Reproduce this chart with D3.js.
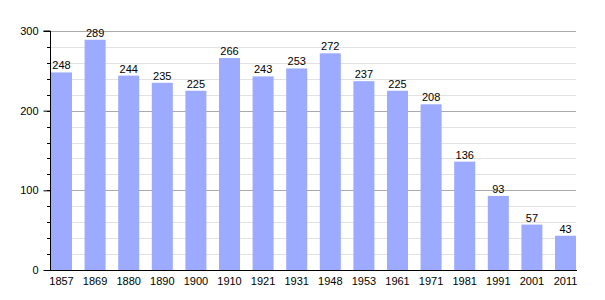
<!DOCTYPE html>
<html>
<head>
<meta charset="utf-8">
<script src="https://cdn.jsdelivr.net/npm/d3@7"></script>
<style>
  body { margin: 0; background: #fff; }
  text { font-family: "Liberation Sans", Arial, sans-serif; font-size: 11px; fill: #000; }
</style>
</head>
<body>
<script>
var width = 605, height = 300;

// data
var years = ["1857", "1869", "1880", "1890", "1900", "1910", "1921", "1931",
  "1948", "1953", "1961", "1971", "1981", "1991", "2001", "2011"];
var population = [248, 289, 244, 235, 225, 266, 243, 253, 272, 237, 225, 208, 136, 93, 57, 43];
var yTicks = [0, 100, 200, 300];
var minorTicks = d3.range(20, 300, 20);

var svg = d3.select("body").append("svg")
  .attr("width", width)
  .attr("height", height);

var x = d3.scaleBand()
  .domain(years)
  .range([51, 576])
  .paddingInner(0.375)
  .paddingOuter(0);

var y = d3.scaleLinear()
  .domain([0, 300])
  .range([270, 31]);

// grid lines
svg.append("g").selectAll("line")
  .data(minorTicks.filter(function(d) { return d % 100 != 0; }))
  .enter().append("line")
  .attr("x1", 50).attr("x2", 576)
  .attr("y1", function(d) { return Math.round(y(d)) + 0.5; })
  .attr("y2", function(d) { return Math.round(y(d)) + 0.5; })
  .attr("stroke", "#e2e2e2");

svg.append("g").selectAll("line")
  .data(yTicks.filter(function(d) { return d > 0; }))
  .enter().append("line")
  .attr("x1", 50).attr("x2", 576)
  .attr("y1", function(d) { return Math.round(y(d)) + 0.5; })
  .attr("y2", function(d) { return Math.round(y(d)) + 0.5; })
  .attr("stroke", "#aaaaaa");

// bars
svg.append("g").selectAll("rect")
  .data(population)
  .enter().append("rect")
  .attr("x", function(d, i) { return x(years[i]); })
  .attr("y", function(d) { return y(d); })
  .attr("width", x.bandwidth())
  .attr("height", function(d) { return y(0) - y(d); })
  .attr("fill", "#9caaff");

// value labels
svg.append("g").selectAll("text")
  .data(population)
  .enter().append("text")
  .attr("x", function(d, i) { return x(years[i]) + x.bandwidth() / 2; })
  .attr("y", function(d) { return y(d) - 3; })
  .attr("text-anchor", "middle")
  .text(function(d) { return d; });

// y axis minor ticks
svg.append("g").selectAll("line")
  .data(minorTicks)
  .enter().append("line")
  .attr("x1", 47).attr("x2", 50)
  .attr("y1", function(d) { return Math.round(y(d)) + 0.5; })
  .attr("y2", function(d) { return Math.round(y(d)) + 0.5; })
  .attr("stroke", "#000");

var yAxis = d3.axisLeft(y)
  .tickValues(yTicks)
  .tickSize(7)
  .tickPadding(5);

svg.append("g")
  .attr("transform", "translate(50.5,0)")
  .call(yAxis)
  .call(function(g) {
    g.select(".domain").attr("d", "M-7," + y(300) + "H0V" + y(0));
    g.selectAll("text").style("font-size", "11px").style("font-family", "Liberation Sans, Arial, sans-serif");
  });

// x axis
var xAxis = d3.axisBottom(x).tickSize(0).tickPadding(7);
svg.append("g")
  .attr("transform", "translate(0," + (y(0) + 0.5) + ")")
  .call(xAxis)
  .call(function(g) {
    g.select(".domain").attr("d", "M50,0H577");
    g.selectAll("text").style("font-size", "11px").style("font-family", "Liberation Sans, Arial, sans-serif");
  });
</script>
</body>
</html>
